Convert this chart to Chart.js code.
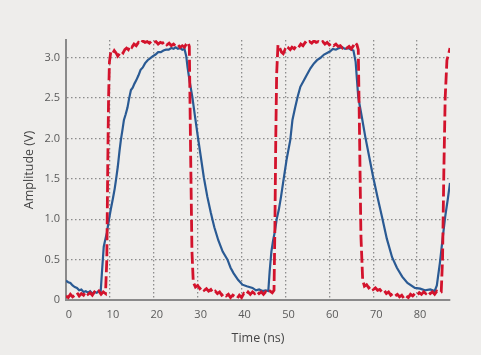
<!DOCTYPE html>
<html><head><meta charset="utf-8">
<script src="https://cdn.jsdelivr.net/npm/chart.js@4"></script>
<style>html,body{margin:0;padding:0;background:#eeedeb;overflow:hidden}#wrap{width:481px;height:355px}</style>
</head><body><div id="wrap"><canvas id="c" width="481" height="355"></canvas></div>
<script>
const redTime=[0,0.5,1,1.5,2,2.5,3,3.5,4,4.5,5,5.5,6,6.5,7,7.5,8,8.5,9,9.3,9.5,9.7,9.9,10.2,10.6,11,11.4,11.8,12.2,12.6,13,13.4,13.8,14.2,14.6,15,15.5,16,16.5,17,17.5,18,18.5,19,19.5,20,20.5,21,21.5,22,22.5,23,23.5,24,24.5,25,25.5,26,26.5,27,27.4,27.8,28.1,28.4,28.7,29,29.5,30,30.5,31,31.5,32,32.5,33,33.5,34,34.5,35,35.5,36,36.5,37,37.5,38,38.5,39,39.5,40,40.5,41,41.5,42,42.5,43,43.5,44,44.5,45,45.5,46,46.5,47,47.4,47.6,47.8,48,48.3,48.7,49.1,49.5,49.9,50.3,50.7,51.1,51.5,52,52.5,53,53.5,54,54.5,55,55.5,56,56.5,57,57.5,58,58.5,59,59.5,60,60.5,61,61.5,62,62.5,63,63.5,64,64.5,65,65.5,65.9,66.3,66.6,66.9,67.2,67.6,68,68.5,69,69.5,70,70.5,71,71.5,72,72.5,73,73.5,74,74.5,75,75.5,76,76.5,77,77.5,78,78.5,79,79.5,80,80.5,81,81.5,82,82.5,83,83.5,84,84.5,85,85.5,85.8,86.1,86.4,86.8,87.2,87.5];
const redVolt=[0.05,0.03,0.07,0.04,0.06,0.09,0.05,0.08,0.06,0.1,0.07,0.09,0.06,0.1,0.08,0.11,0.07,0.1,0.08,0.5,1.6,2.5,2.95,3.07,3.05,3.09,3.06,3.02,3.05,3.08,3.06,3.1,3.12,3.1,3.15,3.13,3.17,3.15,3.19,3.17,3.21,3.19,3.2,3.18,3.21,3.19,3.2,3.17,3.19,3.18,3.2,3.16,3.18,3.15,3.17,3.14,3.16,3.13,3.15,3.13,3.17,3.19,3.14,1.8,0.6,0.22,0.16,0.18,0.14,0.16,0.12,0.14,0.11,0.13,0.09,0.11,0.08,0.1,0.06,0.08,0.05,0.07,0.03,0.06,0.04,0.02,0.06,0.03,0.08,0.06,0.1,0.07,0.1,0.08,0.11,0.08,0.1,0.07,0.1,0.08,0.11,0.09,0.12,0.9,2.0,2.8,3.16,3.12,3.07,3.05,3.1,3.08,3.12,3.1,3.13,3.11,3.15,3.13,3.17,3.15,3.19,3.17,3.2,3.18,3.21,3.19,3.2,3.18,3.2,3.17,3.19,3.16,3.18,3.15,3.17,3.14,3.15,3.12,3.14,3.12,3.14,3.11,3.15,3.19,3.16,3.1,2.0,0.8,0.25,0.17,0.19,0.15,0.17,0.13,0.15,0.12,0.13,0.1,0.12,0.08,0.1,0.06,0.08,0.05,0.07,0.04,0.06,0.02,0.05,0.03,0.07,0.05,0.08,0.06,0.09,0.07,0.1,0.08,0.11,0.08,0.1,0.07,0.11,0.09,0.1,0.5,1.6,2.5,2.97,3.05,3.12];
const blueTime=[0,0.5,1,1.5,2,2.5,3,3.5,4,4.5,5,5.5,6,6.5,7,7.5,7.9,8.2,8.6,9,9.3,9.8,10.2,10.7,11.1,11.4,11.8,12.2,12.5,12.9,13.2,13.6,14,14.4,14.8,15.2,15.6,16,16.5,17,17.5,18,18.6,19.3,19.8,20.4,21,21.6,22.2,22.8,23.4,24,24.5,25,25.5,26,26.5,27,27.4,27.7,28.2,28.8,29.4,30,30.7,31.4,32.2,33,33.8,34.7,35.7,36.8,37.5,38.2,39.2,40.2,41.2,42.5,43.3,44,44.8,45.5,46.1,46.4,46.8,47.2,47.6,48,48.5,49,49.6,50.3,51.1,51.6,52.2,52.8,53.4,54,54.8,55.7,56.5,57.2,58,58.8,59.5,60.2,60.8,61.5,62.2,62.9,63.6,64.3,65,65.5,66,66.6,67.4,68.2,69.1,70,71,72,73.1,74.3,75.4,76.6,77.8,79.5,80.7,81.8,83,84,84.5,85.2,85.8,86.4,87,87.5];
const blueVolt=[0.24,0.22,0.21,0.18,0.16,0.15,0.12,0.13,0.1,0.11,0.09,0.11,0.08,0.1,0.09,0.11,0.1,0.35,0.66,0.76,0.83,1.0,1.12,1.26,1.38,1.49,1.65,1.85,1.98,2.12,2.23,2.3,2.38,2.5,2.6,2.63,2.68,2.72,2.78,2.85,2.88,2.93,2.97,3.0,3.02,3.04,3.07,3.07,3.09,3.1,3.1,3.12,3.11,3.13,3.11,3.12,3.1,3.11,3.02,2.88,2.7,2.51,2.27,2.04,1.78,1.52,1.28,1.08,0.9,0.74,0.6,0.5,0.4,0.33,0.25,0.19,0.17,0.15,0.12,0.13,0.11,0.12,0.11,0.35,0.6,0.74,0.85,1.0,1.12,1.28,1.5,1.75,1.98,2.23,2.38,2.52,2.64,2.7,2.78,2.87,2.93,2.97,3.0,3.04,3.06,3.08,3.11,3.1,3.12,3.13,3.11,3.12,3.1,3.09,2.95,2.51,2.27,2.02,1.77,1.52,1.27,1.03,0.76,0.53,0.4,0.29,0.21,0.15,0.14,0.12,0.13,0.11,0.18,0.46,0.75,1.03,1.25,1.45];
const xTickValues=[0,10,20,30,40,50,60,70,80];
const yTickValues=[0,0.5,1.0,1.5,2.0,2.5,3.0];
const xRange=[0,87.5];
const yRange=[0,3.22];

const toXY=(t,v)=>t.map((x,i)=>({x:x,y:v[i]}));
const gridColor='#8c8c8c';
const font={family:'"Open Sans", "Noto Sans", sans-serif',size:11};
new Chart(document.getElementById('c'),{
  type:'line',
  data:{datasets:[
    {label:'Input',data:toXY(redTime,redVolt),borderColor:'#d3132c',borderWidth:2.8,borderDash:[12,4],pointRadius:0,tension:0,fill:false},
    {label:'Output',data:toXY(blueTime,blueVolt),borderColor:'#2a5a93',borderWidth:2.2,pointRadius:0,tension:0,fill:false}
  ]},
  options:{
    responsive:false,animation:false,devicePixelRatio:1,
    layout:{padding:{top:40,right:31,left:0,bottom:0}},
    plugins:{legend:{display:false},tooltip:{enabled:false}},
    scales:{
      x:{type:'linear',min:xRange[0],max:xRange[1],
        afterBuildTicks:s=>{s.ticks=xTickValues.map(v=>({value:v}));},
        afterFit:s=>{s.height=55;},
        grid:{color:gridColor,lineWidth:1.3,drawTicks:false},
        border:{color:'#8a8a8a',width:2,dash:[1.5,2.5]},
        ticks:{color:'#5a5a5a',font:font,padding:8,labelOffset:3,maxRotation:0,callback:v=>String(v)},
        title:{display:true,text:'Time (ns)',color:'#444',font:{family:font.family,size:12.5},padding:{top:0,bottom:9}}
      },
      y:{type:'linear',min:yRange[0],max:yRange[1],
        afterBuildTicks:s=>{s.ticks=yTickValues.map(v=>({value:v}));},
        afterFit:s=>{s.width=66;},
        grid:{color:gridColor,lineWidth:1.3,drawTicks:false},
        border:{color:'#8a8a8a',width:2,dash:[1.5,2.5]},
        ticks:{color:'#5a5a5a',font:font,padding:6,callback:v=>v===0?'0':v.toFixed(1)},
        title:{display:true,text:'Amplitude (V)',color:'#444',font:{family:font.family,size:12.5},padding:{top:22,bottom:0}}
      }
    }
  }
});
</script></body></html>
